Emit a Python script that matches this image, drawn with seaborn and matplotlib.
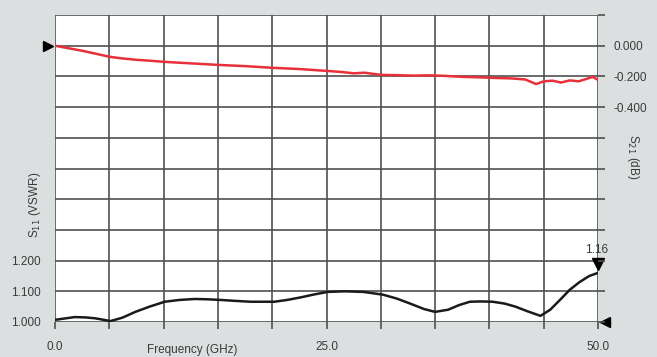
import matplotlib
matplotlib.use("Agg")
import matplotlib.pyplot as plt
import seaborn as sns
import numpy as np
import pandas as pd

# ---- data ----
freq_s11 = [0.0, 1.0, 1.8, 2.8, 3.7, 4.5, 5.1, 6.2, 7.4, 8.7, 10.1, 11.5, 12.9, 14.0, 15.2,
            16.5, 18.0, 19.3, 20.2, 21.4, 22.6, 23.9, 25.1, 26.7, 28.4, 30.2, 31.5, 32.7,
            34.0, 35.0, 36.2, 37.2, 38.2, 39.2, 40.3, 41.4, 42.4, 43.5, 44.7, 45.6, 46.5,
            47.4, 48.3, 49.2, 50.0]
s11_vswr = [1.007, 1.012, 1.016, 1.015, 1.012, 1.007, 1.003, 1.014, 1.033, 1.050, 1.066, 1.072,
            1.075, 1.074, 1.072, 1.069, 1.066, 1.066, 1.066, 1.072, 1.080, 1.090, 1.098, 1.100,
            1.098, 1.089, 1.076, 1.060, 1.042, 1.033, 1.040, 1.055, 1.066, 1.067, 1.066, 1.060,
            1.050, 1.035, 1.020, 1.040, 1.072, 1.105, 1.130, 1.150, 1.160]

freq_s21 = [0.0, 1.2, 2.5, 3.8, 5.0, 6.2, 7.5, 8.8, 10.0, 12.5, 15.0, 17.5, 20.0, 22.5, 25.0,
            26.5, 27.5, 28.5, 30.0, 31.5, 33.0, 34.5, 36.0, 37.5, 39.0, 40.5, 42.0, 43.3,
            44.3, 45.0, 45.8, 46.6, 47.4, 48.2, 49.0, 49.5, 50.0]
s21_db = [0.000, -0.016, -0.033, -0.053, -0.072, -0.083, -0.092, -0.098, -0.105, -0.115, -0.125,
          -0.133, -0.144, -0.152, -0.164, -0.172, -0.180, -0.176, -0.190, -0.192, -0.195, -0.193,
          -0.197, -0.203, -0.206, -0.210, -0.213, -0.220, -0.250, -0.232, -0.228, -0.240, -0.226,
          -0.232, -0.215, -0.203, -0.223]

marker_freq = 50.0
marker_vswr = 1.16
marker_label = "1.16"

x_ticks = [0.0, 25.0, 50.0]
x_ticklabels = ["0.0", "25.0", "50.0"]
left_labels = ["1.000", "1.100", "1.200"]
right_ticks = [0.0, -0.2, -0.4]
right_labels = ["0.000", "-0.200", "-0.400"]

# ---- style ----
sns.set_theme(style="white")
fam = ["Liberation Sans", "DejaVu Sans"]
plt.rcParams["font.family"] = fam
bg = "#dcdfe0"
grid_c = "#505050"
txt_c = "#3a3a3a"
fs = 8.5

fig = plt.figure(figsize=(6.57, 3.57), dpi=100, facecolor=bg)
ax = fig.add_axes([55/657, 1-322/357, (598-55)/657, (322-15)/357])
ax.set_facecolor("white")
ax2 = ax.twinx()

df11 = pd.DataFrame({"f": freq_s11, "v": s11_vswr})
df21 = pd.DataFrame({"f": freq_s21, "d": s21_db})

sns.lineplot(data=df11, x="f", y="v", ax=ax, color="#1a1a1a", linewidth=1.8, zorder=5)
sns.lineplot(data=df21, x="f", y="d", ax=ax2, color="#e8303a", linewidth=1.8, zorder=5)

ax.set_xlim(0, 50)
ax.set_ylim(1.0, 2.0)
ax2.set_ylim(-1.8, 0.2)

xg = np.arange(0, 50.01, 5.0)
yg = np.arange(1.0, 2.001, 0.1)
for x in xg:
    ax.axvline(x, color=grid_c, lw=1.2, zorder=1)
for y in yg:
    ax.axhline(y, color=grid_c, lw=1.2, zorder=1)

ax.set_xticks(xg)
ax.set_xticklabels([x_ticklabels[x_ticks.index(v)] if v in x_ticks else "" for v in xg])
ax.set_yticks(yg)
ax.set_yticklabels([left_labels[i] if i < len(left_labels) else "" for i in range(len(yg))])
ax.tick_params(axis="x", length=5, width=1.2, color=grid_c, labelcolor=txt_c, labelsize=fs,
               pad=9, bottom=True)
ax.tick_params(axis="y", length=0, labelsize=fs, labelcolor=txt_c, pad=10, left=True)

yg2 = np.linspace(-1.8, 0.2, 11)
ax2.set_yticks(yg2)
lab2 = []
for v in yg2:
    m = [right_labels[i] for i, t in enumerate(right_ticks) if abs(t - v) < 1e-6]
    lab2.append(m[0] if m else "")
ax2.set_yticklabels(lab2)
ax2.tick_params(axis="y", length=5, width=1.2, color=grid_c, labelsize=fs, labelcolor=txt_c,
                pad=6, right=True)

for a in (ax, ax2):
    a.set_xlabel("")
    a.set_ylabel("")
    for s in a.spines.values():
        s.set_visible(False)

fig.text(192/657, 1-350/357, "Frequency (GHz)", ha="center", va="center",
         fontsize=fs, color=txt_c)
fig.text(35/657, 1-205/357, "S$_{11}$ (VSWR)", rotation=90, ha="center", va="center",
         fontsize=fs, color=txt_c)
fig.text(633/657, 1-157/357, "S$_{21}$ (dB)", rotation=-90, ha="center", va="center",
         fontsize=fs, color=txt_c)

# reference markers
ax2.plot([-0.65], [0.0], marker=">", color="black", markersize=7, clip_on=False, zorder=10)
ax.plot([50.65], [1.0], marker="<", color="black", markersize=7, clip_on=False, zorder=10)
ax.plot([marker_freq], [marker_vswr + 0.03], marker="v", color="black", markersize=8,
        clip_on=False, zorder=10)
ax.text(marker_freq - 0.1, marker_vswr + 0.055, marker_label, ha="center", va="bottom",
        fontsize=fs, color=txt_c)

fig.savefig("out.png", dpi=100, facecolor=bg)
